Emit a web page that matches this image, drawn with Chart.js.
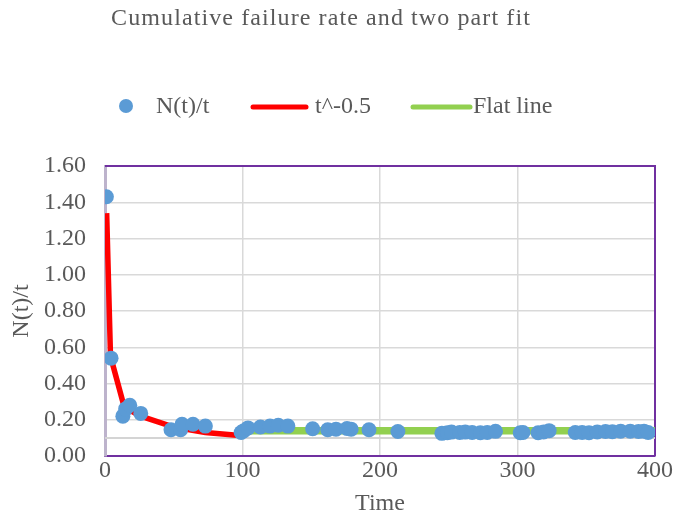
<!DOCTYPE html>
<html>
<head>
<meta charset="utf-8">
<script src="https://cdn.jsdelivr.net/npm/chart.js@4"></script>
<style>
  body { margin: 0; background: #fff; }
</style>
</head>
<body>
<canvas id="grafico" width="673" height="515"></canvas>
<script>
const tituloTexto = 'Cumulative failure rate and two part fit'

// N(t)/t, pontos medidos
const tempos = [1, 4.4, 13, 15, 18, 26, 48, 55, 56, 64, 73, 99, 101, 104, 113, 120, 126, 133,
  151, 162, 168, 176, 179, 192, 213, 245, 249, 252, 258, 262, 267, 273, 278, 284,
  302, 304, 315, 319, 323, 342, 347, 352, 358, 364, 369, 375, 382, 388, 392, 395]
const taxas = [1.43, 0.54, 0.22, 0.26, 0.28, 0.235, 0.145, 0.145, 0.175, 0.175, 0.165, 0.13, 0.14, 0.155, 0.16, 0.165, 0.17, 0.165,
  0.15, 0.145, 0.148, 0.152, 0.148, 0.145, 0.135, 0.125, 0.128, 0.132, 0.13, 0.132, 0.13, 0.128, 0.13, 0.136,
  0.128, 0.13, 0.128, 0.133, 0.14, 0.13, 0.13, 0.128, 0.133, 0.135, 0.134, 0.137, 0.137, 0.135, 0.137, 0.13]

// curva t^-0.5
const ajusteT = [1.2, 4, 14, 26, 50, 73, 100]
const ajusteN = [1.34, 0.55, 0.27, 0.22, 0.16, 0.13, 0.112]

// linha plana
const planaT = [100, 400]
const planaN = [0.14, 0.14]

// linha cinza em 0.1
const cinzaT = [0, 400]
const cinzaN = [0.1, 0.1]

const xTicks = [0, 100, 200, 300, 400]
const yTicks = [0, 0.2, 0.4, 0.6, 0.8, 1.0, 1.2, 1.4, 1.6]

const fonte = '"Liberation Serif", "Times New Roman", serif'
const cinzaTexto = '#595959'

function pares(xs, ys) {
    return xs.map((x, i) => ({ x: x, y: ys[i] }))
}

const cabecalho = {
    id: 'cabecalho',
    beforeDatasetsDraw(chart) {
        const c = chart.ctx
        const a = chart.chartArea
        c.save()
        c.strokeStyle = '#7030A0'
        c.lineWidth = 2
        c.beginPath()
        c.moveTo(a.left, a.top)
        c.lineTo(a.right, a.top)
        c.lineTo(a.right, a.bottom)
        c.stroke()
        c.restore()
    },
    afterDraw(chart) {
        const c = chart.ctx
        const ds = chart.data.datasets
        c.save()
        c.fillStyle = cinzaTexto
        c.font = '24px ' + fonte
        c.textBaseline = 'middle'
        c.textAlign = 'center'
        c.letterSpacing = '1.1px'
        c.fillText(tituloTexto, 321, 19)
        c.letterSpacing = '0px'
        c.textAlign = 'left'

        const y = 107
        // bolinha
        c.fillStyle = ds[0].backgroundColor
        c.beginPath()
        c.arc(126, y - 1, 7, 0, Math.PI * 2)
        c.fill()
        c.fillStyle = cinzaTexto
        c.fillText(ds[0].label, 156, y)

        const linhas = [[ds[1], 253, 306, 315], [ds[2], 413, 470, 473]]
        linhas.forEach(([d, x1, x2, xt]) => {
            c.strokeStyle = d.borderColor
            c.lineWidth = 5
            c.lineCap = 'round'
            c.beginPath()
            c.moveTo(x1, y)
            c.lineTo(x2, y)
            c.stroke()
            c.fillStyle = cinzaTexto
            c.fillText(d.label, xt, y)
        })
        c.restore()
    }
}

const ctx = document.getElementById('grafico')

new Chart(ctx, {
    type: 'scatter',
    data: {
        datasets: [{
            label: 'N(t)/t',
            data: pares(tempos, taxas),
            backgroundColor: '#5B9BD5',
            borderColor: '#5B9BD5',
            pointRadius: 7.5,
            pointBorderWidth: 0,
            showLine: false
        },
        {
            label: 't^-0.5',
            data: pares(ajusteT, ajusteN),
            borderColor: '#FF0000',
            backgroundColor: '#FF0000',
            borderWidth: 5.5,
            pointRadius: 0,
            showLine: true
        },
        {
            label: 'Flat line',
            data: pares(planaT, planaN),
            borderColor: '#92D050',
            backgroundColor: '#92D050',
            borderWidth: 7.5,
            pointRadius: 0,
            showLine: true
        },
        {
            label: '',
            data: pares(cinzaT, cinzaN),
            borderColor: '#D4D4D4',
            borderWidth: 2,
            pointRadius: 0,
            showLine: true
        }]
    },
    options: {
        responsive: false,
        animation: false,
        layout: { padding: { top: 166, left: 0, right: 18, bottom: 0 } },
        plugins: {
            legend: { display: false },
            title: { display: false },
            tooltip: { enabled: false }
        },
        scales: {
            x: {
                type: 'linear',
                min: 0,
                max: 400,
                afterFit: s => { s.height = 59 },
                afterBuildTicks: s => { s.ticks = xTicks.map(v => ({ value: v })) },
                ticks: { color: cinzaTexto, font: { family: fonte, size: 24 }, padding: 0 },
                grid: { color: '#D9D9D9', lineWidth: 1.5, drawTicks: false },
                border: { color: '#7030A0', width: 2 },
                title: {
                    display: true,
                    text: 'Time',
                    color: cinzaTexto,
                    font: { family: fonte, size: 24, lineHeight: 1 },
                    padding: { top: 0, bottom: -1 }
                }
            },
            y: {
                min: 0,
                max: 1.6,
                afterFit: s => { s.width = 105 },
                afterBuildTicks: s => { s.ticks = yTicks.map(v => ({ value: v })) },
                ticks: {
                    color: cinzaTexto,
                    font: { family: fonte, size: 24 },
                    padding: 19,
                    callback: v => v.toFixed(2)
                },
                grid: { color: '#D9D9D9', lineWidth: 1.5, drawTicks: false },
                border: { color: '#BDB3CC', width: 3 },
                title: {
                    display: true,
                    text: 'N(t)/t',
                    color: cinzaTexto,
                    font: { family: fonte, size: 24, lineHeight: 1 },
                    padding: { top: 10, bottom: 0 }
                }
            }
        }
    },
    plugins: [cabecalho]
})
</script>
</body>
</html>
